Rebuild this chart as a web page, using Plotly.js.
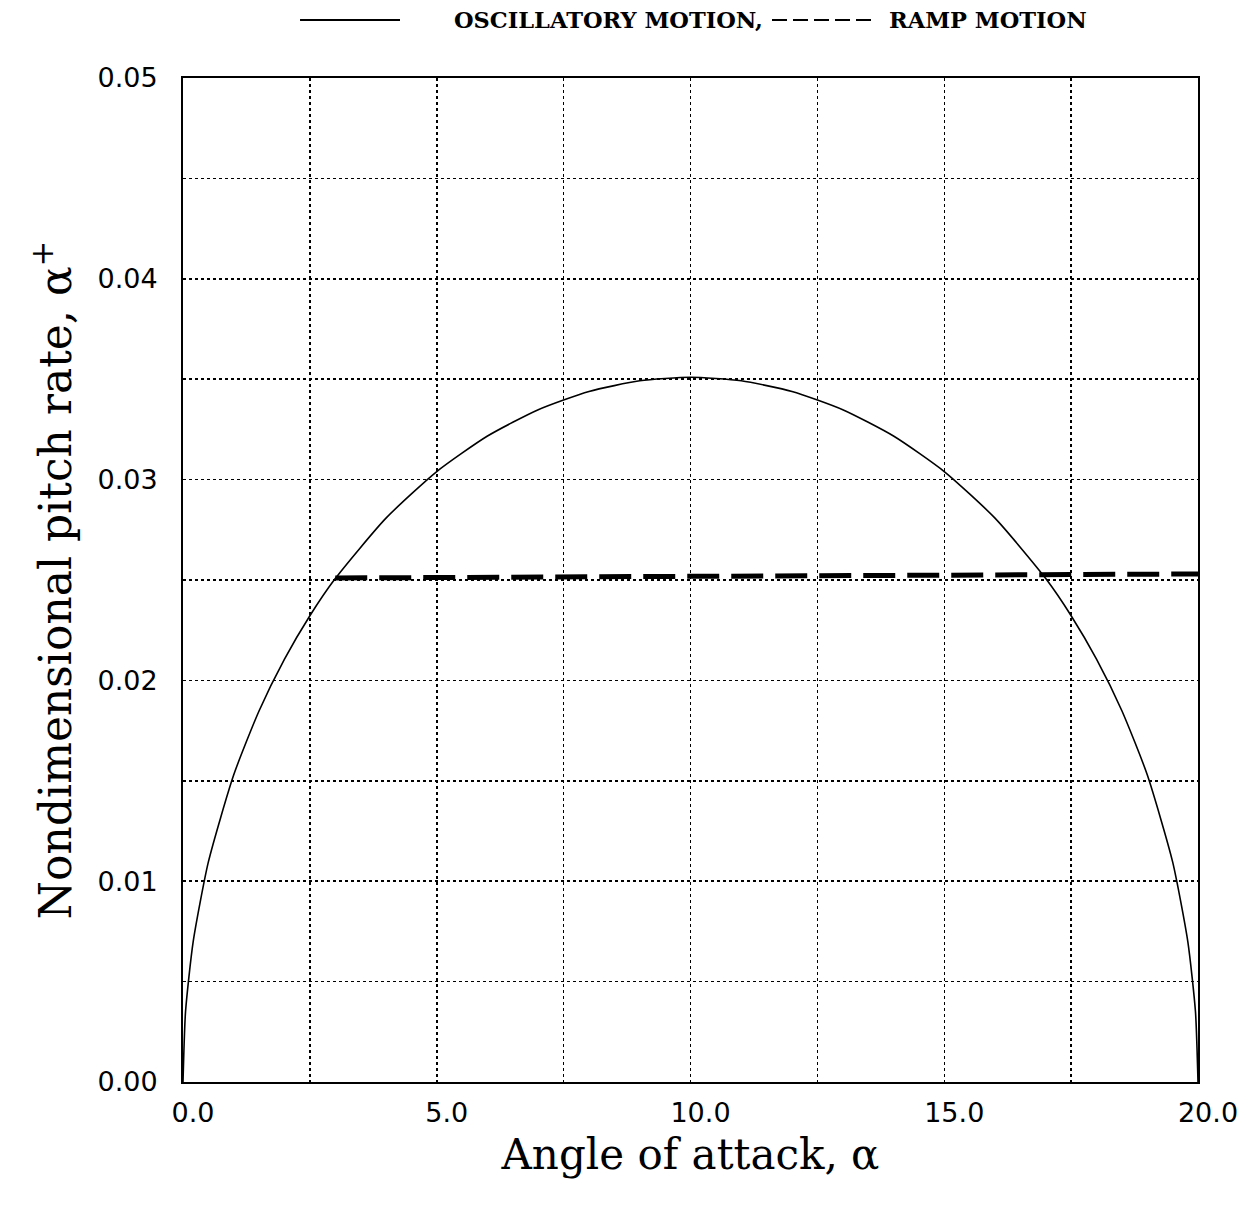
<!DOCTYPE html>
<html>
<head>
<meta charset="utf-8">
<script src="https://cdn.plot.ly/plotly-3.0.1.min.js"></script>
<style>html,body{margin:0;padding:0;background:#fff;}</style>
</head>
<body>
<div id="chart" style="width:1252px;height:1205px;"></div>
<script>
// Oscillatory motion: angle of attack (deg) vs nondimensional pitch rate
const oscAlpha = [0, 0.05, 0.2, 0.5, 1, 1.5, 2, 2.5, 3, 4, 5, 6, 7, 8, 9, 10, 11, 12, 13, 14, 15, 16, 17, 17.5, 18, 18.5, 19, 19.5, 19.8, 19.95, 20];
const oscRate  = [0, 0.00351, 0.00698, 0.01096, 0.0153, 0.01849, 0.02106, 0.02322, 0.02507, 0.02808, 0.0304, 0.03217, 0.03348, 0.03439, 0.03492, 0.0351, 0.03492, 0.03439, 0.03348, 0.03217, 0.0304, 0.02808, 0.02507, 0.02322, 0.02106, 0.01849, 0.0153, 0.01096, 0.00698, 0.00351, 0];
// Ramp motion
const rampAlpha = [3.0, 10.0, 20.0];
const rampRate  = [0.0251, 0.0252, 0.0253];
// Axis ticks
const xTicks = [0, 5, 10, 15, 20];
const yTicks = [0, 0.01, 0.02, 0.03, 0.04, 0.05];
// Key labels
const keyLabels = ['OSCILLATORY MOTION,', 'RAMP MOTION'];

const traces = [
  {x: oscAlpha, y: oscRate, type: 'scatter', mode: 'lines', name: 'OSCILLATORY MOTION',
   line: {color: '#000', width: 1.6, shape: 'spline', smoothing: 0.6}},
  {x: rampAlpha, y: rampRate, type: 'scatter', mode: 'lines', name: 'RAMP MOTION',
   line: {color: '#000', width: 5, dash: '32px,12px'}}
];

const keyFont = {family: 'DejaVu Serif', size: 22.5, color: '#000', weight: 'bold'};
const layout = {
  width: 1252, height: 1205,
  margin: {l: 183, r: 54, t: 78, b: 123},
  paper_bgcolor: '#fff', plot_bgcolor: '#fff',
  showlegend: false,
  font: {family: 'DejaVu Sans', color: '#000'},
  xaxis: {
    range: [0, 20], tickvals: xTicks, tickformat: '.1f',
    showline: true, linecolor: '#000', linewidth: 2, mirror: true,
    showgrid: true, gridcolor: '#000', gridwidth: 1.5, griddash: 'dot',
    minor: {dtick: 2.5, tick0: 0, showgrid: true, gridcolor: '#000', gridwidth: 1.5, griddash: 'dot'},
    zeroline: false, ticks: '',
    tickfont: {family: 'DejaVu Sans', size: 27, color: '#000'},
    ticklabelshift: 10, ticklabelstandoff: 6,
    title: {text: 'Angle of attack, α', font: {family: 'DejaVu Serif', size: 42, color: '#000'}, standoff: 12}
  },
  yaxis: {
    range: [0, 0.05], tickvals: yTicks, tickformat: '.2f',
    showline: true, linecolor: '#000', linewidth: 2, mirror: true,
    showgrid: true, gridcolor: '#000', gridwidth: 1.5, griddash: 'dot',
    minor: {dtick: 0.005, tick0: 0, showgrid: true, gridcolor: '#000', gridwidth: 1.5, griddash: 'dot'},
    zeroline: false, ticks: '',
    tickfont: {family: 'DejaVu Sans', size: 27, color: '#000'},
    ticklabelstandoff: 18,
    title: {text: 'Nondimensional pitch rate, α<sup>+</sup>', font: {family: 'DejaVu Serif', size: 44, color: '#000'}, standoff: 12}
  },
  shapes: [
    {type: 'line', xref: 'paper', yref: 'paper', x0: 0.1153, x1: 0.2138, y0: 1.0578, y1: 1.0578,
     line: {color: '#000', width: 2}},
    {type: 'line', xref: 'paper', yref: 'paper', x0: 0.5803, x1: 0.6818, y0: 1.0578, y1: 1.0578,
     line: {color: '#000', width: 2, dash: '15px,6px'}}
  ],
  annotations: [
    {xref: 'paper', yref: 'paper', x: 0.265, y: 1.0578, xanchor: 'left', yanchor: 'middle', showarrow: false,
     text: keyLabels[0], font: keyFont},
    {xref: 'paper', yref: 'paper', x: 0.6936, y: 1.0578, xanchor: 'left', yanchor: 'middle', showarrow: false,
     text: keyLabels[1], font: keyFont}
  ]
};

Plotly.newPlot('chart', traces, layout, {displayModeBar: false, staticPlot: true});
</script>
</body>
</html>
